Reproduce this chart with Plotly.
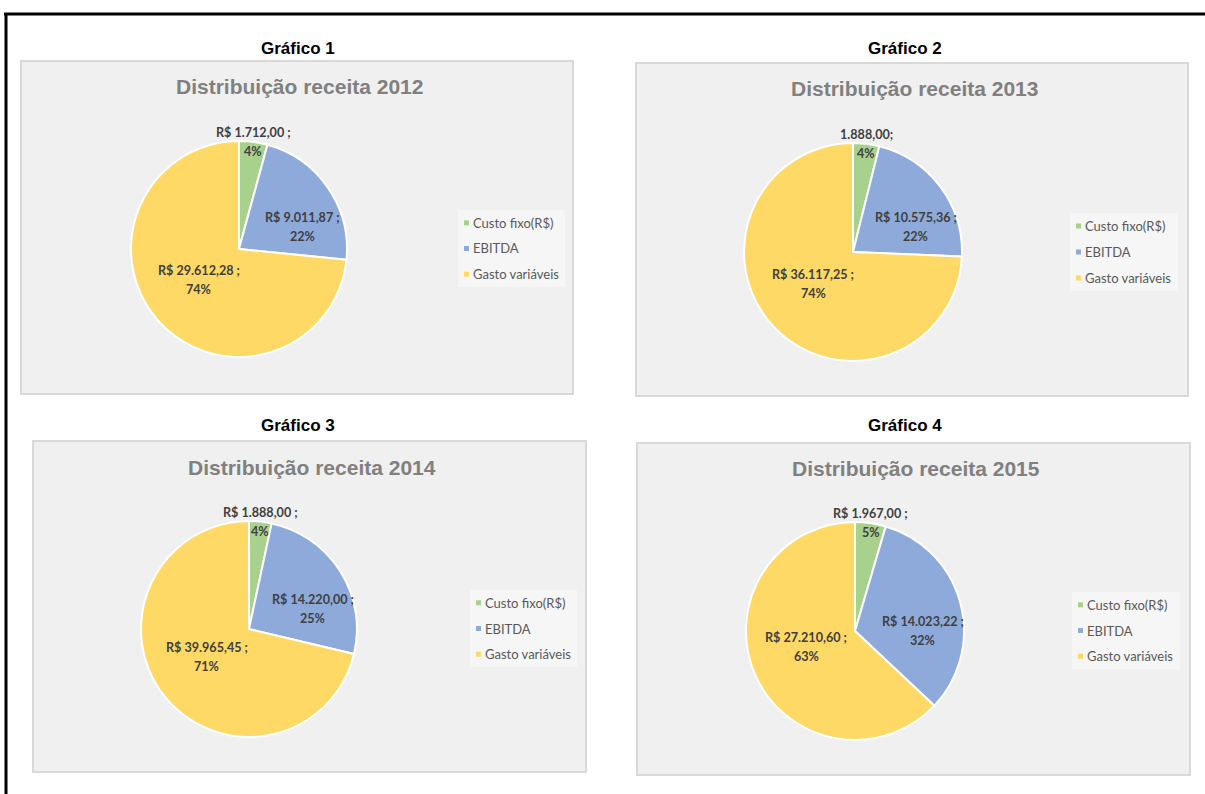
import math
import plotly.graph_objects as go

W, H = 1205, 794

# ---------------- data ----------------
categories = ["Custo fixo(R$)", "EBITDA", "Gasto variáveis"]
years = [2012, 2013, 2014, 2015]
panel_names = ["Gráfico 1", "Gráfico 2", "Gráfico 3", "Gráfico 4"]
custo_fixo = [1712.00, 1888.00, 1888.00, 1967.00]
ebitda = [9011.87, 10575.36, 14220.00, 14023.22]
gasto_variaveis = [29612.28, 36117.25, 39965.45, 27210.60]
# percentages as printed on the chart labels
pct_custo = [4, 4, 4, 5]
pct_ebitda = [22, 22, 25, 32]
pct_gasto = [74, 74, 71, 63]
# value label formats (chart 2 shows the fixed cost without "R$")
fmt_custo = ["R$ {v} ;", "{v};", "R$ {v} ;", "R$ {v} ;"]
fmt_other = "R$ {v} ;"

# ---------------- style / layout ----------------
colors = ["#a9d18e", "#8eaadb", "#ffd966"]
panel_boxes = [(21, 61, 573, 394), (636, 63, 1188, 396),
               (33, 441, 586, 772), (637, 443, 1190, 775)]
header_pos = [(298, 48), (905, 48), (298, 425), (905, 425)]
pie_centers = [(239, 249), (853, 252), (249, 629), (855, 631)]
pie_r = [108, 109, 108, 109]
legend_boxes = [(458, 210, 565, 287), (1070, 213, 1178, 291),
                (470, 590, 577, 667), (1072, 592, 1180, 669)]
label_frac = [1.0, 0.62, 0.47]     # radial position of labels (fraction of r)
label_rot = [0.0, 15.0, 5.0]       # angular nudge (deg) like Excel best-fit
LABEL_FONT = dict(family="Lato, Open Sans, sans-serif", size=12.6, color="#404040")
LEG_FONT = dict(family="Lato, Open Sans, sans-serif", size=13, color="#595959")
TITLE_FONT = dict(family="Liberation Sans Narrow, Arial Narrow, Liberation Sans, sans-serif",
                  size=21, color="#808080")
HEAD_FONT = dict(family="Liberation Sans, Arial, sans-serif", size=17, color="#000000")


def px(x):
    return x / W


def py(y):
    return 1 - y / H


def br(v):
    s = f"{v:,.2f}"
    return s.replace(",", "X").replace(".", ",").replace("X", ".")


fig = go.Figure()
shapes = []
annotations = []

# outer frame (document table border)
shapes.append(dict(type="line", xref="paper", yref="paper", x0=px(4), x1=1.0,
                   y0=py(14), y1=py(14), line=dict(color="black", width=3)))
shapes.append(dict(type="line", xref="paper", yref="paper", x0=px(6), x1=px(6),
                   y0=py(14), y1=0, line=dict(color="black", width=3)))

for i in range(4):
    x0, y0, x1, y1 = panel_boxes[i]
    shapes.append(dict(type="rect", xref="paper", yref="paper", layer="below",
                       x0=px(x0), x1=px(x1), y0=py(y1), y1=py(y0),
                       fillcolor="#f0f0f0", line=dict(color="#d9d9d9", width=2)))
    cx, cy = pie_centers[i]
    r = pie_r[i]
    vals = [custo_fixo[i], ebitda[i], gasto_variaveis[i]]
    fig.add_trace(go.Pie(
        labels=categories, values=vals, sort=False, direction="clockwise",
        rotation=0, textinfo="none", hoverinfo="label+value+percent",
        marker=dict(colors=colors, line=dict(color="white", width=2)),
        domain=dict(x=[px(cx - r), px(cx + r)], y=[py(cy + r), py(cy - r)]),
        showlegend=False, name=str(years[i])))

    # header above panel
    hx, hy = header_pos[i]
    annotations.append(dict(text=f"<b>{panel_names[i]}</b>", xref="paper", yref="paper",
                            x=px(hx), y=py(hy), showarrow=False,
                            xanchor="center", yanchor="middle", font=HEAD_FONT))
    # chart title
    annotations.append(dict(text=f"<b>Distribuição receita {years[i]}</b>", xref="paper",
                            yref="paper", x=px((x0 + x1) / 2 + 2), y=py(y0 + 26),
                            showarrow=False, xanchor="center", yanchor="middle",
                            font=TITLE_FONT))

    # data labels, placed from slice angles
    total = sum(vals)
    pcts = [pct_custo[i], pct_ebitda[i], pct_gasto[i]]
    texts = [fmt_custo[i].format(v=br(vals[0])), fmt_other.format(v=br(vals[1])),
             fmt_other.format(v=br(vals[2]))]
    cum = 0.0
    for k in range(3):
        mid = (cum + vals[k] / 2) / total * 360 + label_rot[k]
        cum += vals[k]
        d = label_frac[k] * r
        lx = cx + d * math.sin(math.radians(mid))
        ly = cy - d * math.cos(math.radians(mid))
        for line_text, dy in ((texts[k], -9.5), (f"{pcts[k]}%", 9.5)):
            annotations.append(dict(text=f"<b>{line_text}</b>", xref="paper", yref="paper",
                                    x=px(lx), y=py(ly + dy), showarrow=False,
                                    xanchor="center", yanchor="middle", font=LABEL_FONT))

    # legend
    lx0, ly0, lx1, ly1 = legend_boxes[i]
    shapes.append(dict(type="rect", xref="paper", yref="paper", layer="below",
                       x0=px(lx0), x1=px(lx1), y0=py(ly1), y1=py(ly0),
                       fillcolor="#f6f6f6", line=dict(width=0)))
    step = (ly1 - ly0) / 3
    for k in range(3):
        iy = ly0 + step * (k + 0.5)
        shapes.append(dict(type="rect", xref="paper", yref="paper",
                           x0=px(lx0 + 6), x1=px(lx0 + 11), y0=py(iy + 2.5), y1=py(iy - 2.5),
                           fillcolor=colors[k], line=dict(width=0)))
        annotations.append(dict(text=categories[k], xref="paper", yref="paper",
                                x=px(lx0 + 13), y=py(iy), showarrow=False,
                                xanchor="left", yanchor="middle", font=LEG_FONT))

fig.update_layout(width=W, height=H, margin=dict(l=0, r=0, t=0, b=0),
                  paper_bgcolor="white", plot_bgcolor="white",
                  shapes=shapes, annotations=annotations)
fig.write_html("out.html")
